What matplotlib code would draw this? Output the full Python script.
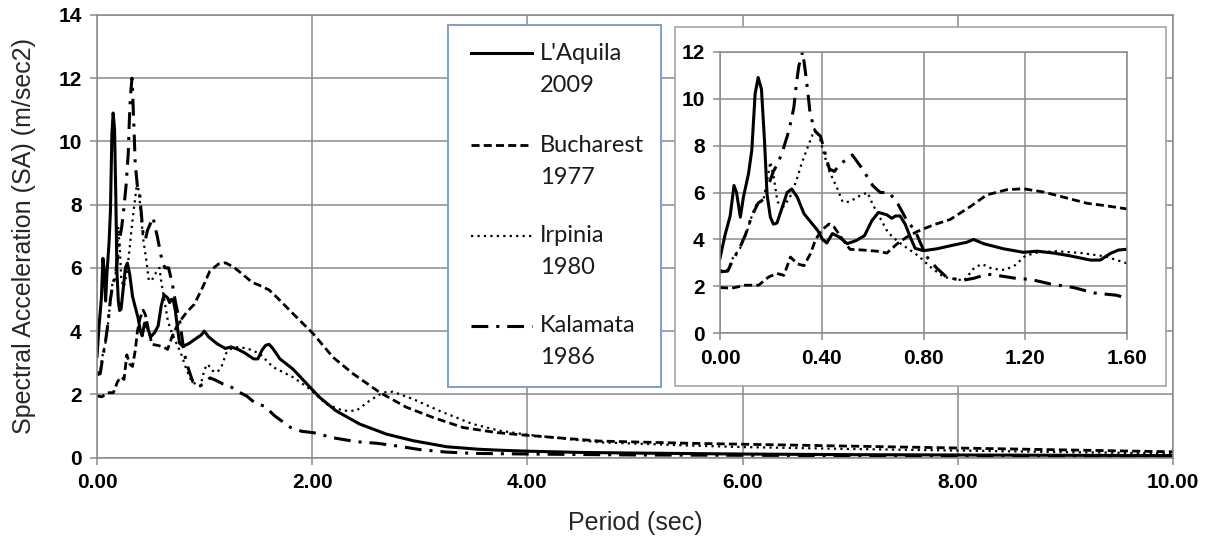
import matplotlib
matplotlib.use("Agg")
import matplotlib.pyplot as plt
from matplotlib.patches import Rectangle

# response spectra, period (sec) vs spectral acceleration (m/sec2)
aquila_t = [0.00, 0.02, 0.04, 0.055, 0.065, 0.08, 0.092, 0.112, 0.125, 0.138, 0.15, 0.163,
            0.175, 0.185, 0.198, 0.21, 0.224, 0.244, 0.264, 0.282, 0.304, 0.33, 0.356, 0.383,
            0.403, 0.42, 0.442, 0.469, 0.50, 0.535, 0.568, 0.597, 0.623, 0.656, 0.675, 0.69,
            0.708, 0.728, 0.748, 0.767, 0.80, 0.852, 0.918, 0.97, 0.997, 1.036, 1.115, 1.193,
            1.246, 1.311, 1.377, 1.456, 1.495, 1.534, 1.567, 1.60, 1.636, 1.70, 1.82, 1.95,
            2.07, 2.22, 2.44, 2.69, 2.94, 3.25, 3.55, 3.75, 4.0, 4.5, 5.0, 6.0, 7.0, 8.0, 9.0, 10.0]
aquila_sa = [3.2, 4.2, 5.0, 6.3, 6.0, 4.95, 5.8, 6.8, 7.8, 10.2, 10.9, 10.4,
             8.2, 5.9, 4.95, 4.65, 4.7, 5.35, 6.0, 6.15, 5.8, 5.1, 4.75, 4.4,
             4.0, 3.85, 4.25, 4.1, 3.82, 3.95, 4.16, 4.8, 5.15, 5.05, 4.9, 5.0,
             5.0, 4.65, 4.1, 3.62, 3.52, 3.6, 3.76, 3.88, 4.0, 3.82, 3.6, 3.45,
             3.5, 3.42, 3.3, 3.12, 3.12, 3.4, 3.55, 3.58, 3.44, 3.12, 2.8, 2.33,
             1.9, 1.48, 1.06, 0.74, 0.53, 0.34, 0.26, 0.23, 0.2, 0.16, 0.14, 0.11, 0.09, 0.08, 0.07, 0.06]

bucharest_t = [0.00, 0.046, 0.099, 0.152, 0.191, 0.224, 0.251, 0.277, 0.304, 0.33, 0.356, 0.376,
               0.40, 0.429, 0.449, 0.482, 0.511, 0.56, 0.616, 0.656, 0.695, 0.734, 0.774, 0.839,
               0.905, 0.984, 1.049, 1.128, 1.193, 1.272, 1.351, 1.443, 1.508, 1.60, 1.668, 1.822,
               2.008, 2.194, 2.38, 2.627, 2.875, 3.12, 3.4, 3.71, 4.0, 4.67, 5.5, 6.0, 7.0, 8.0, 9.0, 10.0]
bucharest_sa = [1.95, 1.92, 2.05, 2.05, 2.4, 2.55, 2.47, 3.25, 2.96, 2.88, 3.4, 4.0,
                4.4, 4.66, 4.52, 4.0, 3.58, 3.55, 3.5, 3.42, 3.8, 4.1, 4.33, 4.62,
                4.85, 5.4, 5.9, 6.12, 6.16, 6.02, 5.8, 5.54, 5.45, 5.3, 5.08, 4.55,
                3.92, 3.17, 2.65, 2.06, 1.59, 1.27, 0.95, 0.79, 0.7, 0.52, 0.45, 0.42, 0.36, 0.3, 0.24, 0.18]

irpinia_t = [0.00, 0.03, 0.05, 0.08, 0.105, 0.125, 0.145, 0.17, 0.185, 0.198, 0.212, 0.226,
             0.25, 0.275, 0.30, 0.32, 0.34, 0.358, 0.372, 0.39, 0.41, 0.43, 0.46, 0.482,
             0.508, 0.548, 0.58, 0.60, 0.63, 0.66, 0.70, 0.74, 0.78, 0.83, 0.88, 0.93,
             0.96, 1.0, 1.03, 1.07, 1.12, 1.16, 1.2, 1.25, 1.32, 1.42, 1.514, 1.60,
             1.636, 1.822, 1.977, 2.13, 2.286, 2.41, 2.534, 2.66, 2.75, 2.936, 3.18, 3.49,
             3.74, 4.0, 4.67, 5.5, 6.0, 7.0, 8.0, 9.0, 10.0]
irpinia_sa = [2.68, 2.7, 3.2, 3.65, 4.3, 5.0, 5.55, 5.65, 6.5, 7.3, 6.6, 5.6,
              5.4, 5.8, 6.5, 7.2, 7.8, 8.3, 8.7, 8.4, 7.6, 6.9, 6.2, 5.6,
              5.6, 5.85, 6.0, 5.5, 4.9, 4.3, 3.9, 3.6, 3.3, 2.8, 2.4, 2.3,
              2.25, 2.8, 2.95, 2.75, 2.7, 2.9, 3.3, 3.45, 3.5, 3.42, 3.28, 2.98,
              2.86, 2.54, 2.17, 1.69, 1.48, 1.48, 1.8, 2.06, 2.08, 1.85, 1.48, 1.06,
              0.85, 0.72, 0.48, 0.38, 0.33, 0.27, 0.22, 0.17, 0.13]

kalamata_t = [0.00, 0.03, 0.05, 0.08, 0.10, 0.125, 0.15, 0.17, 0.19, 0.21, 0.23, 0.25,
              0.27, 0.29, 0.30, 0.31, 0.325, 0.335, 0.345, 0.355, 0.375, 0.395, 0.41, 0.43,
              0.45, 0.47, 0.49, 0.52, 0.56, 0.60, 0.63, 0.665, 0.70, 0.73, 0.77, 0.81,
              0.85, 0.89, 0.95, 1.0, 1.05, 1.1, 1.17, 1.22, 1.3, 1.39, 1.47, 1.56,
              1.65, 1.8, 1.9, 2.02, 2.2, 2.41, 2.6, 2.8, 3.0, 3.25, 3.5, 4.0, 5.0, 6.0, 8.0, 10.0]
kalamata_sa = [2.62, 2.65, 3.1, 3.7, 4.2, 5.0, 5.55, 5.7, 6.3, 6.9, 7.3, 7.9,
               8.6, 9.6, 10.6, 11.4, 12.0, 11.2, 10.3, 9.3, 8.6, 8.4, 7.8, 7.0,
               6.9, 7.2, 7.35, 7.6, 7.0, 6.3, 6.0, 6.0, 5.5, 4.9, 4.3, 3.3,
               2.8, 2.4, 2.25, 2.35, 2.52, 2.45, 2.33, 2.3, 2.1, 1.95, 1.72, 1.62,
               1.32, 0.95, 0.83, 0.78, 0.62, 0.5, 0.45, 0.36, 0.25, 0.17, 0.13, 0.11, 0.08, 0.07, 0.05, 0.04]

names = ["L'Aquila", "Bucharest", "Irpinia", "Kalamata"]
years = ["2009", "1977", "1980", "1986"]

main_xticks = [0, 2, 4, 6, 8, 10]
main_yticks = [0, 2, 4, 6, 8, 10, 12, 14]
inset_xticks = [0.0, 0.4, 0.8, 1.2, 1.6]
inset_yticks = [0, 2, 4, 6, 8, 10, 12]

series = [(aquila_t, aquila_sa), (bucharest_t, bucharest_sa),
          (irpinia_t, irpinia_sa), (kalamata_t, kalamata_sa)]
styles = [dict(linestyle="-", lw=2.2),
          dict(linestyle=(0, (2.9, 1.5)), lw=2.0),
          dict(linestyle=(0, (1.0, 1.9)), lw=1.6),
          dict(linestyle=(0, (5.5, 2.6, 1.0, 2.6)), lw=2.2)]

grid_col = "#8a8a8a"
W, H = 1211, 538


def box(x0, y0, x1, y1):
    # pixel box (top-left origin) -> figure fraction rect
    return [x0 / W, 1 - y1 / H, (x1 - x0) / W, (y1 - y0) / H]


def style_axes(a):
    a.grid(True, color=grid_col, lw=1.1)
    a.set_axisbelow(True)
    for s in a.spines.values():
        s.set_color(grid_col)
        s.set_linewidth(1.1)
    a.tick_params(direction="out", length=5, width=1.1, color=grid_col, pad=6)
    for lab in a.get_xticklabels() + a.get_yticklabels():
        lab.set_fontfamily("Liberation Sans")
        lab.set_fontweight("bold")
        lab.set_fontsize(15)


fig = plt.figure(figsize=(W / 100, H / 100), dpi=100)
fig.patch.set_facecolor("white")

ax = fig.add_axes(box(97, 15, 1173, 457.5))
for (t, sa), st in zip(series, styles):
    ax.plot(t, sa, color="black", **st)
ax.set_xlim(0, 10)
ax.set_ylim(0, 14)
ax.set_xticks(main_xticks)
ax.set_xticklabels(["%.2f" % v for v in main_xticks])
ax.set_yticks(main_yticks)
style_axes(ax)
ax.set_xlabel("Period (sec)", family="Liberation Sans", fontsize=18, color="#262626", labelpad=14)
ax.set_ylabel("Spectral Acceleration (SA) (m/sec2)", family="Liberation Sans", fontsize=18,
              color="#262626", labelpad=16)

# white panel behind the zoomed view
px = box(675, 27, 1166, 386)
fig.patches.append(Rectangle(px[:2], px[2], px[3], transform=fig.transFigure,
                             facecolor="white", edgecolor="#a6a6a6", lw=1.2, zorder=1))

ins = fig.add_axes(box(720, 51.7, 1127, 333.3), zorder=2)
for (t, sa), st in zip(series, styles):
    ins.plot(t, sa, color="black", **st)
ins.set_xlim(0, 1.6)
ins.set_ylim(0, 12)
ins.set_xticks(inset_xticks)
ins.set_xticklabels(["%.2f" % v for v in inset_xticks])
ins.set_yticks(inset_yticks)
style_axes(ins)

# legend panel
leg = fig.add_axes(box(448, 25, 661, 387), zorder=2)
leg.set_xlim(448, 661)
leg.set_ylim(387, 25)
leg.set_xticks([])
leg.set_yticks([])
for s in leg.spines.values():
    s.set_color("#7d9fcc")
    s.set_linewidth(1.4)
rows = [53, 145, 236, 326]
for y, st, name, yr in zip(rows, styles, names, years):
    leg.plot([471, 532], [y, y], color="black", **st)
    leg.text(540, y, name, family="Lato", fontsize=17, color="#1a1a1a", va="center")
    leg.text(540, y + 32, yr, family="Lato", fontsize=17, color="#1a1a1a", va="center")

fig.savefig("out.png", dpi=100, facecolor="white")
